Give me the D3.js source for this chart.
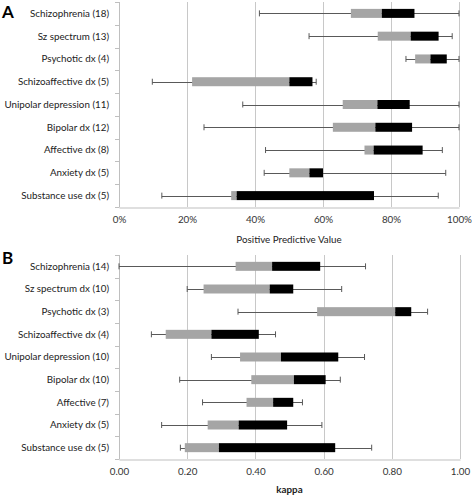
<!DOCTYPE html>
<html><head><meta charset="utf-8">
<script src="https://cdn.jsdelivr.net/npm/d3@7"></script>
<style>body{margin:0;background:#fff}svg{display:block}text{font-family:Lato,"Open Sans",sans-serif}</style>
</head><body>
<script>
const categoriesA = ["Schizophrenia (18)","Sz spectrum (13)","Psychotic dx (4)","Schizoaffective dx (5)","Unipolar depression (11)","Bipolar dx (12)","Affective dx (8)","Anxiety dx (5)","Substance use dx (5)"];
const minA    = [41.3, 55.9, 84.4,  9.8, 36.4, 25.0, 43.1, 42.7, 12.6];
const q1A     = [68.2, 76.1, 87.1, 21.5, 65.8, 62.9, 72.2, 50.1, 33.0];
const medA    = [77.3, 85.8, 91.6, 50.1, 76.0, 75.4, 74.9, 56.0, 34.6];
const q3A     = [86.9, 94.0, 96.4, 56.9, 85.5, 86.2, 89.3, 60.0, 75.0];
const maxA    = [100, 98.0, 100, 58.0, 100, 100, 95.1, 96.1, 93.9];
const ticksA  = [0, 20, 40, 60, 80, 100];

const categoriesB = ["Schizophrenia (14)","Sz spectrum dx (10)","Psychotic dx (3)","Schizoaffective dx (4)","Unipolar depression (10)","Bipolar dx (10)","Affective (7)","Anxiety dx (5)","Substance use dx (5)"];
const minB    = [0.000, 0.200, 0.349, 0.095, 0.271, 0.178, 0.245, 0.125, 0.180];
const q1B     = [0.342, 0.248, 0.581, 0.137, 0.355, 0.388, 0.374, 0.260, 0.193];
const medB    = [0.449, 0.442, 0.810, 0.271, 0.475, 0.513, 0.452, 0.351, 0.293];
const q3B     = [0.590, 0.511, 0.857, 0.410, 0.643, 0.606, 0.511, 0.493, 0.634];
const maxB    = [0.723, 0.653, 0.905, 0.459, 0.720, 0.649, 0.538, 0.595, 0.741];
const ticksB  = [0, 0.2, 0.4, 0.6, 0.8, 1.0];

const W = 472, H = 496;
const FS = 9.8;
const svg = d3.select("body").append("svg").attr("width", W).attr("height", H);

function panel(cfg) {
  const g = svg.append("g");
  const x = d3.scaleLinear().domain(cfg.domain).range([cfg.x0, cfg.x1]);
  const y = d3.scaleBand().domain(cfg.cats).range([cfg.y0, cfg.y1]);
  // gridlines
  g.selectAll(".grid").data(cfg.ticks.slice(1)).join("line")
    .attr("x1", d => Math.round(x(d)) + 0.5).attr("x2", d => Math.round(x(d)) + 0.5)
    .attr("y1", cfg.y0).attr("y2", cfg.y1)
    .attr("stroke", "#c8c8c8").attr("stroke-width", 1);
  // x axis
  const xa = g.append("g").attr("transform", `translate(0,${cfg.y1 + 0.5})`)
    .call(d3.axisBottom(x).tickValues(cfg.ticks).tickFormat(cfg.fmt).tickSize(0).tickPadding(9));
  xa.select(".domain").attr("stroke", "#bfbfbf");
  xa.selectAll("text").attr("font-size", FS).attr("fill", "#333").attr("font-family", "Lato,'Open Sans',sans-serif");
  // y axis
  const yBound = d3.scaleLinear().domain([0, cfg.cats.length]).range([cfg.y0, cfg.y1]);
  g.append("line").attr("x1", cfg.x0 + 0.5).attr("x2", cfg.x0 + 0.5).attr("y1", cfg.y0).attr("y2", cfg.y1)
    .attr("stroke", "#bfbfbf");
  g.selectAll(".ytick").data(d3.range(cfg.cats.length + 1)).join("line")
    .attr("x1", cfg.x0 - 4).attr("x2", cfg.x0 + 0.5)
    .attr("y1", d => Math.round(yBound(d)) + 0.5).attr("y2", d => Math.round(yBound(d)) + 0.5)
    .attr("stroke", "#bfbfbf");
  const cy = d => y(d) + y.bandwidth() / 2;
  g.selectAll(".ylab").data(cfg.cats).join("text")
    .attr("x", cfg.x0 - 10).attr("y", d => cy(d))
    .attr("dy", "0.35em").attr("text-anchor", "end")
    .attr("font-size", FS).attr("fill", "#222").text(d => d);
  const bh = 9;
  const rows = g.selectAll(".row").data(cfg.cats).join("g");
  // whisker line
  rows.append("line")
    .attr("x1", (d, i) => x(cfg.min[i])).attr("x2", (d, i) => x(cfg.max[i]))
    .attr("y1", d => Math.round(cy(d)) + 0.5).attr("y2", d => Math.round(cy(d)) + 0.5)
    .attr("stroke", "#595959").attr("stroke-width", 1);
  // caps
  rows.append("line")
    .attr("x1", (d, i) => x(cfg.min[i])).attr("x2", (d, i) => x(cfg.min[i]))
    .attr("y1", d => cy(d) - 3).attr("y2", d => cy(d) + 3)
    .attr("stroke", "#595959").attr("stroke-width", 1);
  rows.append("line")
    .attr("x1", (d, i) => x(cfg.max[i])).attr("x2", (d, i) => x(cfg.max[i]))
    .attr("y1", d => cy(d) - 3).attr("y2", d => cy(d) + 3)
    .attr("stroke", "#595959").attr("stroke-width", 1);
  // grey box
  rows.append("rect")
    .attr("x", (d, i) => x(cfg.q1[i])).attr("width", (d, i) => x(cfg.med[i]) - x(cfg.q1[i]))
    .attr("y", d => cy(d) - bh / 2).attr("height", bh)
    .attr("fill", "#a5a5a5");
  rows.append("rect")
    .attr("x", (d, i) => x(cfg.med[i])).attr("width", (d, i) => x(cfg.q3[i]) - x(cfg.med[i]))
    .attr("y", d => cy(d) - bh / 2).attr("height", bh)
    .attr("fill", "#000");
  // axis title
  g.append("text").attr("x", (cfg.x0 + cfg.x1) / 2).attr("y", cfg.titleY)
    .attr("text-anchor", "middle").attr("font-size", FS)
    .attr("font-weight", cfg.titleWeight).attr("fill", "#222").text(cfg.title);
  // panel letter
  g.append("text").attr("x", 2).attr("y", cfg.letterY)
    .attr("font-family", "'Liberation Sans',Arial,sans-serif")
    .attr("font-size", 17).attr("font-weight", "bold").attr("fill", "#000").text(cfg.letter);
}

panel({cats: categoriesA, min: minA, q1: q1A, med: medA, q3: q3A, max: maxA, ticks: ticksA,
  domain: [0, 100], x0: 119, x1: 459, y0: 2, y1: 207, fmt: d => d + "%",
  title: "Positive Predictive Value", titleY: 243, titleWeight: "normal",
  letter: "A", letterY: 18});
panel({cats: categoriesB, min: minB, q1: q1B, med: medB, q3: q3B, max: maxB, ticks: ticksB,
  domain: [0, 1], x0: 119, x1: 460, y0: 255, y1: 459, fmt: d3.format(".2f"),
  title: "kappa", titleY: 493, titleWeight: "bold",
  letter: "B", letterY: 264});
</script>
</body></html>
